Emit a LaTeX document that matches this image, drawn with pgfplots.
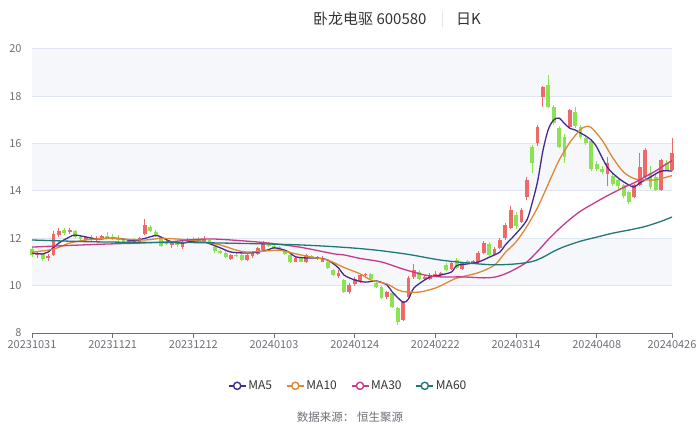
\documentclass[border=0pt]{standalone}
\usepackage{pgfplots}
\pgfplotsset{compat=1.18}
\usepackage{pgfplotstable}
\usepackage{fontspec}
\setmainfont{Noto Sans CJK SC}

\definecolor{upc}{RGB}{240,105,105}
\definecolor{downc}{RGB}{140,226,80}
\definecolor{maA}{RGB}{68,42,140}
\definecolor{maB}{RGB}{222,135,52}
\definecolor{maC}{RGB}{199,58,137}
\definecolor{maD}{RGB}{34,120,120}
\definecolor{textc}{RGB}{110,112,121}
\definecolor{titlec}{RGB}{51,51,51}
\definecolor{gridc}{RGB}{224,230,241}
\definecolor{bandc}{RGB}{246,247,251}

% daily candles: index, open, high, low, close
\pgfplotstableread{
i o h l c
0 11.55 11.65 11.20 11.28
1 11.30 11.45 11.18 11.38
2 11.35 11.40 11.05 11.12
3 11.15 11.32 11.05 11.25
4 11.30 12.30 11.25 12.20
5 12.15 12.42 12.05 12.32
6 12.35 12.45 12.15 12.22
7 12.25 12.42 12.18 12.35
8 12.30 12.35 12.02 12.05
9 12.05 12.12 11.92 11.98
10 11.95 12.10 11.88 12.05
11 12.05 12.12 11.90 11.95
12 11.95 12.08 11.85 12.00
13 12.02 12.15 11.95 12.10
14 12.10 12.25 12.02 12.05
15 12.05 12.18 11.92 11.98
16 11.98 12.12 11.90 11.95
17 11.92 12.02 11.80 11.85
18 11.85 11.98 11.78 11.92
19 11.90 12.00 11.75 11.80
20 11.82 12.05 11.78 12.00
21 12.20 12.80 12.15 12.55
22 12.50 12.55 12.25 12.30
23 12.25 12.35 12.05 12.10
24 12.05 12.10 11.62 11.68
25 11.85 11.95 11.70 11.78
26 11.70 11.85 11.58 11.82
27 11.85 11.92 11.65 11.70
28 11.62 11.88 11.55 11.85
29 11.85 12.00 11.80 11.95
30 11.95 12.05 11.85 11.90
31 11.95 12.05 11.88 11.92
32 11.90 12.08 11.85 11.98
33 11.92 11.95 11.75 11.78
34 11.65 11.70 11.40 11.45
35 11.45 11.52 11.35 11.40
36 11.40 11.45 11.18 11.22
37 11.12 11.35 11.08 11.30
38 11.30 11.38 11.20 11.25
39 11.28 11.32 11.05 11.10
40 11.10 11.32 11.05 11.28
41 11.25 11.45 11.18 11.40
42 11.35 11.65 11.30 11.60
43 11.52 11.88 11.48 11.80
44 11.80 11.85 11.62 11.68
45 11.68 11.75 11.55 11.62
46 11.62 11.68 11.48 11.52
47 11.45 11.50 11.28 11.32
48 11.30 11.35 10.95 11.00
49 11.02 11.20 10.98 11.15
50 11.15 11.20 10.98 11.02
51 10.98 11.32 10.95 11.28
52 11.25 11.30 11.15 11.20
53 11.15 11.25 11.10 11.22
54 11.02 11.25 10.98 11.12
55 11.00 11.05 10.72 10.75
56 10.68 10.72 10.40 10.45
57 10.40 10.68 10.32 10.55
58 10.25 10.30 9.70 9.75
59 9.75 10.10 9.65 10.03
60 10.05 10.35 9.98 10.28
61 10.18 10.50 10.12 10.45
62 10.45 10.55 10.35 10.50
63 10.50 10.55 10.25 10.30
64 10.12 10.18 9.90 9.95
65 9.95 10.00 9.42 9.48
66 9.52 9.78 9.45 9.73
67 9.70 9.75 9.05 9.10
68 9.05 9.10 8.34 8.46
69 8.55 9.35 8.50 9.30
70 9.52 10.40 9.50 10.32
71 10.37 10.90 10.30 10.66
72 10.58 10.65 10.25 10.30
73 10.30 10.45 10.22 10.38
74 10.30 10.55 10.25 10.45
75 10.40 10.60 10.35 10.50
76 10.45 10.58 10.35 10.55
77 10.87 10.95 10.62 10.66
78 10.70 11.05 10.65 10.96
79 11.08 11.15 10.70 10.75
80 10.72 11.00 10.68 10.95
81 11.05 11.10 10.90 10.95
82 10.95 11.10 10.90 11.05
83 11.00 11.45 10.95 11.38
84 11.38 11.90 11.32 11.80
85 11.75 11.85 11.25 11.30
86 11.30 11.65 11.28 11.55
87 11.60 12.00 11.55 11.93
88 12.00 12.65 11.95 12.56
89 12.44 13.35 12.40 13.20
90 13.00 13.10 12.40 12.50
91 12.70 13.30 12.65 13.20
92 13.75 14.60 13.60 14.46
93 15.86 15.95 14.76 15.18
94 16.03 16.80 15.90 16.70
95 17.97 18.45 17.55 18.40
96 18.48 18.90 17.50 17.55
97 17.55 17.65 16.80 16.87
98 16.66 16.75 15.80 15.86
99 16.28 16.40 15.20 15.44
100 16.70 17.45 16.65 17.42
101 17.35 17.55 16.65 16.75
102 16.70 16.80 16.20 16.28
103 16.25 16.35 15.95 16.03
104 16.10 16.20 14.85 14.95
105 15.15 15.25 14.85 14.95
106 14.95 15.05 14.70 14.80
107 14.70 15.45 14.20 15.20
108 14.65 14.75 14.20 14.28
109 14.45 14.55 14.10 14.20
110 14.25 14.30 13.70 13.78
111 13.96 14.00 13.45 13.55
112 13.75 14.30 13.70 14.25
113 14.25 15.60 14.20 15.00
114 14.60 15.80 14.50 15.73
115 14.76 15.05 14.10 14.17
116 14.59 14.70 14.00 14.04
117 14.04 15.35 14.00 15.30
118 15.20 15.30 14.85 14.90
119 14.90 16.25 14.85 15.60
}\candles

\begin{document}
\begin{tikzpicture}
\begin{axis}[
  set layers,
  scale only axis, width=640bp, height=284bp,
  xmin=0, xmax=119, ymin=8, ymax=20,
  clip=false,
  axis lines*=left,
  y axis line style={draw=none},
  x axis line style={draw=textc, line width=1bp},
  xtick style={draw=textc, line width=1bp},
  ytick style={draw=none},
  tick align=outside, major tick length=5bp,
  ytick={8,10,...,20},
  xtick={0,15,30,45,60,75,90,105,119},
  xticklabels={20231031,20231121,20231212,20240103,20240124,20240222,20240314,20240408,20240426},
  ymajorgrids, major grid style={draw=gridc, line width=1bp},
  /pgf/number format/assume math mode=true,
  tick label style={font=\fontsize{11bp}{13bp}\selectfont, text=textc},
  yticklabel style={xshift=-2bp},
  xticklabel style={yshift=1bp},
  legend style={at={(0.494,-0.186)}, anchor=center, draw=none, fill=none,
    font=\fontsize{12bp}{14bp}\selectfont, text=titlec,
    /tikz/every even column/.append style={column sep=12bp}},
  legend columns=4, legend cell align=left,
  legend image code/.code={
    \draw[#1, line width=1.4bp] (0bp,0bp) -- (17bp,0bp);
    \draw[#1, line width=1.4bp, fill=white] (8.5bp,0bp) circle (3.6bp);
  },
]
\begin{pgfonlayer}{axis background}
\fill[bandc] (axis cs:0,10) rectangle (axis cs:119,12);
\fill[bandc] (axis cs:0,14) rectangle (axis cs:119,16);
\fill[bandc] (axis cs:0,18) rectangle (axis cs:119,20);
\end{pgfonlayer}

% wicks
\addplot[forget plot, draw=none, mark=none,
  restrict expr to domain={\thisrow{c}-\thisrow{o}}{0:100},
  error bars/.cd, y dir=both, y explicit, error mark=none,
  error bar style={draw=upc, line width=1bp}]
  table[x=i, y expr=(\thisrow{h}+\thisrow{l})/2,
    y error plus expr=(\thisrow{h}-\thisrow{l})/2,
    y error minus expr=(\thisrow{h}-\thisrow{l})/2] {\candles};
\addplot[forget plot, draw=none, mark=none,
  restrict expr to domain={\thisrow{o}-\thisrow{c}}{0.0001:100},
  error bars/.cd, y dir=both, y explicit, error mark=none,
  error bar style={draw=downc, line width=1bp}]
  table[x=i, y expr=(\thisrow{h}+\thisrow{l})/2,
    y error plus expr=(\thisrow{h}-\thisrow{l})/2,
    y error minus expr=(\thisrow{h}-\thisrow{l})/2] {\candles};
% bodies
\addplot[forget plot, draw=none, mark=none,
  restrict expr to domain={\thisrow{c}-\thisrow{o}}{0:100},
  error bars/.cd, y dir=both, y explicit, error mark=none,
  error bar style={draw=upc, line width=3.8bp}]
  table[x=i, y expr=(\thisrow{o}+\thisrow{c})/2,
    y error plus expr={max(abs(\thisrow{c}-\thisrow{o})/2,0.022)},
    y error minus expr={max(abs(\thisrow{c}-\thisrow{o})/2,0.022)}] {\candles};
\addplot[forget plot, draw=none, mark=none,
  restrict expr to domain={\thisrow{o}-\thisrow{c}}{0.0001:100},
  error bars/.cd, y dir=both, y explicit, error mark=none,
  error bar style={draw=downc, line width=3.8bp}]
  table[x=i, y expr=(\thisrow{o}+\thisrow{c})/2,
    y error plus expr={max(abs(\thisrow{c}-\thisrow{o})/2,0.022)},
    y error minus expr={max(abs(\thisrow{c}-\thisrow{o})/2,0.022)}] {\candles};

% moving averages
\addplot[maA, line width=1.3bp, smooth, mark=none] coordinates {
(0,11.38) (2,11.34) (3,11.42) (5,11.8) (7,12.06) (8,12.14) (10,12.06) (12,11.97)
(14,12.0) (16,12.0) (18,11.93) (19,11.89) (21,12.0) (23,12.12) (24,12.05) (26,11.85)
(28,11.8) (30,11.88) (32,11.85) (35,11.6) (37,11.42) (40,11.38) (42,11.42) (44,11.52)
(45,11.6) (47,11.5) (48,11.38) (49,11.22) (51,11.17) (53,11.17) (55,11.08) (57,10.75)
(58,10.45) (60,10.24) (62,10.15) (64,10.2) (66,10.03) (67,9.73) (69,9.3) (70,9.44)
(71,9.9) (73,10.24) (74,10.37) (76,10.45) (78,10.58) (79,10.85) (81,10.92) (83,11.0)
(85,11.2) (87,11.42) (88,11.72) (90,12.2) (92,12.77) (93,13.5) (94,14.4) (95,15.7)
(96,16.6) (97,17.0) (98,17.08) (99,16.85) (100,16.65) (101,16.58) (102,16.45) (103,16.32)
(104,16.15) (105,15.86) (107,15.0) (109,14.55) (111,14.25) (112,14.17) (113,14.34)
(115,14.59) (117,14.84) (119,14.84)};
\addplot[maB, line width=1.3bp, smooth, mark=none] coordinates {
(0,11.42) (3,11.5) (5,11.62) (7,11.8) (10,11.93) (14,12.0) (17,11.97) (21,11.93)
(24,12.0) (27,11.97) (29,11.93) (32,11.85) (35,11.72) (38,11.5) (40,11.42) (43,11.46)
(46,11.5) (48,11.4) (52,11.2) (55,11.08) (58,10.77) (61,10.5) (63,10.24) (66,10.07)
(68,9.82) (69,9.75) (72,9.73) (75,9.9) (77,10.11) (79,10.32) (83,10.55) (86,10.87)
(88,11.4) (90,11.85) (92,12.5) (94,13.3) (96,14.3) (98,15.3) (100,16.05) (102,16.6)
(103,16.72) (104,16.68) (106,16.15) (108,15.4) (110,14.8) (112,14.52) (114,14.47)
(116,14.47) (119,14.65)};
\addplot[maC, line width=1.3bp, smooth, mark=none] coordinates {
(0,11.63) (7,11.7) (14,11.76) (20,11.8) (26,11.86) (30,11.95) (34,11.97) (40,11.88)
(44,11.8) (50,11.62) (56,11.35) (58,11.3) (61,11.15) (65,11.0) (69,10.7) (73,10.45)
(76,10.37) (80,10.37) (84,10.33) (86,10.36) (88,10.5) (90,10.72) (92,11.0) (94,11.45)
(96,11.95) (98,12.4) (100,12.8) (102,13.15) (104,13.42) (106,13.68) (108,13.92)
(110,14.15) (112,14.35) (114,14.6) (116,14.85) (118,15.15) (119,15.28)};
\addplot[maD, line width=1.3bp, smooth, mark=none] coordinates {
(0,11.93) (10,11.86) (20,11.83) (30,11.82) (40,11.78) (50,11.72) (58,11.62) (64,11.5)
(70,11.32) (76,11.08) (82,10.94) (86,10.88) (90,10.92) (93,11.02) (95,11.2) (97,11.45)
(99,11.65) (102,11.88) (105,12.05) (108,12.22) (111,12.35) (114,12.5) (117,12.72) (119,12.9)};
\legend{MA5,MA10,MA30,MA60}

\coordinate (bl) at (rel axis cs:0,0);
\coordinate (tr) at (rel axis cs:1,1);
\end{axis}

% title and source (offsets in px from the plot's lower left corner)
\node[anchor=west, inner sep=0, text=titlec, font=\fontsize{15bp}{17bp}\selectfont]
  at ([shift={(281bp,314bp)}]bl) {卧龙电驱 600580};
\draw[gridc, line width=1bp] ([shift={(410bp,306bp)}]bl) -- ([shift={(410bp,322bp)}]bl);
\node[anchor=west, inner sep=0, text=titlec, font=\fontsize{15bp}{17bp}\selectfont]
  at ([shift={(424bp,314bp)}]bl) {日K};
\node[anchor=center, inner sep=0, text=textc, font=\fontsize{11.5bp}{13bp}\selectfont]
  at ([shift={(318bp,-84bp)}]bl) {数据来源：\ 恒生聚源};

\pgfresetboundingbox
\path[use as bounding box] ([shift={(-32bp,-93bp)}]bl) rectangle ([shift={(28bp,49bp)}]tr);
\end{tikzpicture}
\end{document}
